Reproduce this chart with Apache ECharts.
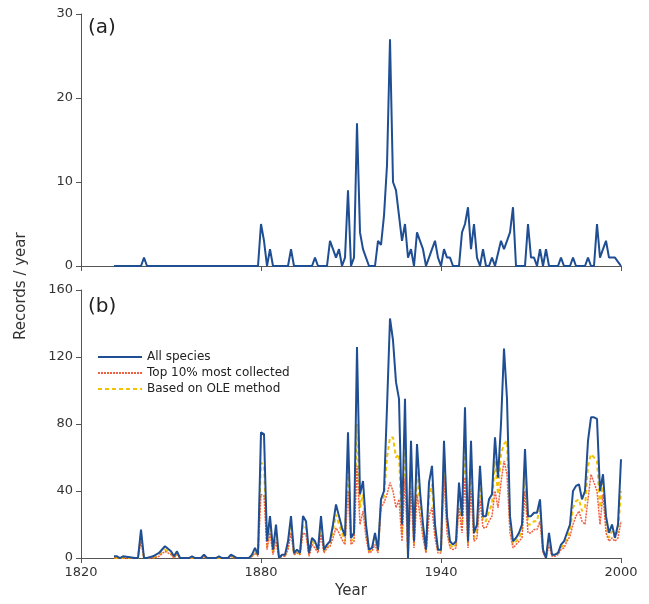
<!DOCTYPE html>
<html>
<head>
<meta charset="utf-8">
<script src="https://cdn.jsdelivr.net/npm/echarts@6/dist/echarts.min.js"></script>
<style>html,body{margin:0;background:#fff}#chart{width:649px;height:604px}</style>
</head>
<body>
<div id="chart"></div>
<script>
// panel (a): vertices
var yearsA = [1831,1840,1841,1842,1879,1880,1881,1882,1883,1884,1889,1890,1891,1897,1898,1899,1902,1903,1904,1905,1906,1907,1908,1909,1910,1911,1912,1913,1914,1915,1916,1918,1919,1920,1921,1922,1923,1924,1925,1926,1927,1928,1929,1930,1931,1932,1933,1934,1935,1936,1937,1938,1939,1940,1941,1942,1943,1944,1946,1947,1948,1949,1950,1951,1952,1953,1954,1955,1956,1957,1958,1960,1961,1962,1963,1964,1965,1968,1969,1970,1971,1972,1973,1974,1975,1976,1979,1980,1981,1983,1984,1985,1988,1989,1990,1991,1992,1993,1994,1995,1996,1997,1998,1999,2000];
var countsA = [0,0,1,0,0,5,3,0,2,0,0,2,0,0,1,0,0,3,2,1,2,0,1,9,0,1,17,4,2,1,0,0,3,2.5,6,12,27,10,9,6,3,5,1,2,0,4,3,2,0,1,2,3,1,0,2,1,1,0,0,4,5,7,2,5,1,0,2,0,0,1,0,3,2,3,4,7,0,0,5,1,1,0,2,0,2,0,0,1,0,0,1,0,0,1,0,0,5,1,2,3,1,1,1,0.5,0];

// panel (b)
var yearsB = [1831,1832,1833,1834,1838,1839,1840,1841,1842,1844,1846,1848,1850,1851,1852,1853,1856,1857,1858,1860,1861,1862,1865,1866,1867,1869,1870,1872,1876,1877,1878,1879];
for (var y = 1880; y <= 2000; y++) yearsB.push(y);
var allSpecies = [1,1,0,1,0,0,17,0,0,1,3,7,4,1,4,0,0,1,0,0,2,0,0,1,0,0,2,0,0,2,6,2,
  75,74,10,25,5,20,0,2,2,10,
  25,3,5,3,25,22,3,12,10,5,
  25,5,8,10,20,32,25,18,13,75,
  12,15,126,38,46,20,5,6,15,5,
  35,40,90,143,130,105,95,20,95,0,
  70,10,68,40,20,5,45,55,20,5,
  5,70,25,10,8,10,45,25,90,10,
  70,15,20,55,25,25,35,38,72,48,
  80,125,95,25,10,12,15,20,65,25,
  25,27,27,35,5,0,15,2,2,3,
  8,10,15,20,40,43,44,35,40,70,
  84,84,83,40,50,25,15,20,12,20,
  59];
var top10 = [0,0,0,0,0,0,10,0,0,0,1,4,2,0,2,0,0,0,0,0,1,0,0,0,0,0,1,0,0,1,3,1,
  38,37,5,15,2,10,0,1,1,5,
  15,2,3,2,15,14,1,8,6,3,
  14,3,6,7,12,18,15,11,8,40,
  8,10,55,20,28,12,3,4,8,3,
  30,33,38,45,40,30,35,10,48,0,
  40,6,38,25,12,3,25,30,12,3,
  3,48,15,6,5,6,30,15,48,6,
  40,10,12,35,18,18,22,25,40,30,
  45,58,50,15,6,8,10,12,40,15,
  15,17,17,22,3,0,8,1,1,2,
  5,6,10,13,20,25,28,22,20,35,
  50,45,40,20,38,15,10,12,10,12,
  22];
var oleBased = [0,0,0,0,0,0,13,0,0,0,2,5,3,0,3,0,0,0,0,0,1,0,0,0,0,0,1,0,0,1,4,1,
  57,55,7,20,3,15,0,1,1,7,
  20,2,4,2,20,18,2,10,8,4,
  20,4,7,8,16,26,20,15,10,60,
  10,12,80,30,38,16,4,5,12,4,
  33,37,60,72,72,60,62,15,70,0,
  55,8,52,32,16,4,36,44,16,4,
  4,60,20,8,6,8,38,20,70,8,
  55,12,16,45,22,22,28,32,58,38,
  62,68,70,20,8,10,12,16,52,20,
  20,22,22,30,4,0,12,2,2,3,
  6,8,12,16,30,34,35,28,30,55,
  62,60,58,30,45,20,12,16,12,16,
  40];

function pairs(xs, ys) { return xs.map(function (x, i) { return [x, ys[i]]; }); }

var axisStyle = { lineStyle: { color: '#555' } };
var labelStyle = { color: '#333', fontSize: 13, fontFamily: 'DejaVu Sans' };
var xLabelStyle = { color: '#333', fontSize: 13, fontFamily: 'DejaVu Sans', formatter: function (v) { return String(v); } };

var myChart = echarts.init(document.getElementById('chart'));
var option = {
  animation: false,
  grid: [
    { left: 81, right: 28, top: 14, height: 252 },
    { left: 81, right: 28, top: 290, height: 268 }
  ],
  xAxis: [
    { gridIndex: 0, type: 'value', min: 1820, max: 2000, interval: 60, axisLine: axisStyle, axisTick: { lineStyle: { color: '#555' } }, axisLabel: { show: false }, splitLine: { show: false } },
    { gridIndex: 1, type: 'value', min: 1820, max: 2000, interval: 60, axisLine: axisStyle, axisTick: { lineStyle: { color: '#555' } }, axisLabel: xLabelStyle, splitLine: { show: false },
      name: 'Year', nameLocation: 'middle', nameGap: 26, nameTextStyle: { fontSize: 15, color: '#333', fontFamily: 'DejaVu Sans' } }
  ],
  yAxis: [
    { gridIndex: 0, type: 'value', min: 0, max: 30, interval: 10, axisLine: { show: true, lineStyle: { color: '#555' } }, axisTick: { show: true }, axisLabel: labelStyle, splitLine: { show: false } },
    { gridIndex: 1, type: 'value', min: 0, max: 160, interval: 40, axisLine: { show: true, lineStyle: { color: '#555' } }, axisTick: { show: true }, axisLabel: labelStyle, splitLine: { show: false } }
  ],
  legend: {
    left: 92, top: 346, orient: 'vertical', itemGap: 4, itemWidth: 44, itemHeight: 10,
    itemStyle: { opacity: 0 },
    textStyle: { fontSize: 12, color: '#222', fontFamily: 'DejaVu Sans' },
    data: ['All species', 'Top 10% most collected', 'Based on OLE method']
  },
  graphic: [
    { type: 'text', left: 88, top: 18, style: { text: '(a)', fontSize: 20, fill: '#222', fontFamily: 'DejaVu Sans' } },
    { type: 'text', left: 88, top: 297, style: { text: '(b)', fontSize: 20, fill: '#222', fontFamily: 'DejaVu Sans' } },
    { type: 'text', x: 14, y: 340, rotation: Math.PI / 2, style: { text: 'Records / year', fontSize: 15, fill: '#333', fontFamily: 'DejaVu Sans' } }
  ],
  series: [
    { type: 'line', name: 'A', xAxisIndex: 0, yAxisIndex: 0, data: pairs(yearsA, countsA), symbol: 'none', lineStyle: { color: '#1f4e93', width: 2 }, itemStyle: { color: '#1f4e93' } },
    { type: 'line', name: 'Based on OLE method', xAxisIndex: 1, yAxisIndex: 1, data: pairs(yearsB, oleBased), symbol: 'none', lineStyle: { color: '#f2c200', width: 2, type: [4, 3] }, itemStyle: { color: '#f2c200' } },
    { type: 'line', name: 'Top 10% most collected', xAxisIndex: 1, yAxisIndex: 1, data: pairs(yearsB, top10), symbol: 'none', lineStyle: { color: '#f06040', width: 1.5, type: [2, 1] }, itemStyle: { color: '#f06040' } },
    { type: 'line', name: 'All species', xAxisIndex: 1, yAxisIndex: 1, data: pairs(yearsB, allSpecies), symbol: 'none', lineStyle: { color: '#1f4e93', width: 2 }, itemStyle: { color: '#1f4e93' } }
  ]
};
myChart.setOption(option);
</script>
</body>
</html>
